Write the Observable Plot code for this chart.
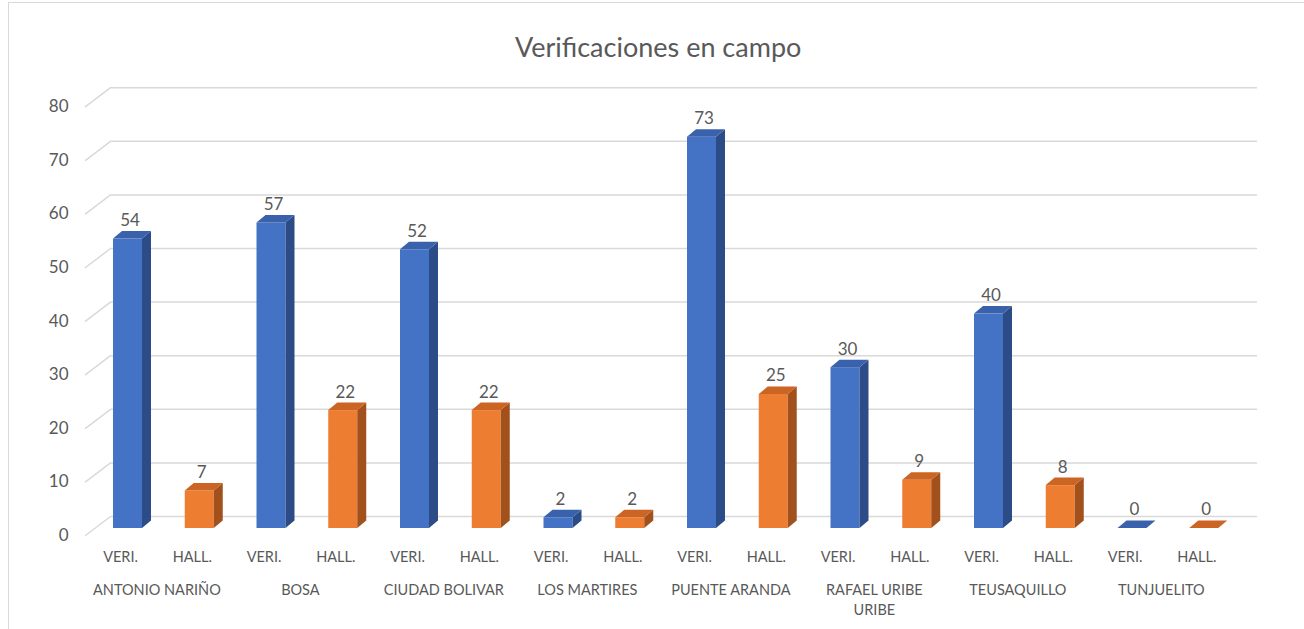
<!DOCTYPE html>
<html>
<head>
<meta charset="utf-8">
<script src="https://cdn.jsdelivr.net/npm/d3@7"></script>
<script src="https://cdn.jsdelivr.net/npm/@observablehq/plot@0.6"></script>
<style>
  html, body { margin: 0; padding: 0; background: #fff; }
  #wrap { position: relative; width: 1304px; height: 629px; overflow: hidden; }
  #border { position: absolute; left: 8px; top: 2px; right: -4px; bottom: -4px;
            border-top: 1.5px solid #d9d9d9; border-left: 1.5px solid #d9d9d9; pointer-events: none; }
  #chart { position: absolute; left: 0; top: 0; }
</style>
</head>
<body>
<div id="wrap"><div id="border"></div><div id="chart"></div></div>
<script>
const title = "Verificaciones en campo";
const districts = ["ANTONIO NARIÑO", "BOSA", "CIUDAD BOLIVAR", "LOS MARTIRES", "PUENTE ARANDA", "RAFAEL URIBE\nURIBE", "TEUSAQUILLO", "TUNJUELITO"];
const seriesLabels = ["VERI.", "HALL."];
const verificaciones = [54, 57, 52, 2, 73, 30, 40, 0];
const hallazgos = [7, 22, 22, 2, 25, 9, 8, 0];
const yTicks = [0, 10, 20, 30, 40, 50, 60, 70, 80];

const palette = [
  {front: "#4472C4", side: "#2B4C86", top: "#3A62AC"},
  {front: "#ED7D31", side: "#A2501C", top: "#CC6424"}
];

// geometry (pixel sizes)
const W = 1304, H = 629;
const pxX = 71.75, pxY = 5.36;
const x0px = 127.5, base = 528;
const ux = p => p / pxX, uy = p => p / pxY;
const halfW = ux(14.5), dX = ux(9), dY = uy(7.5);

const bars = [];
districts.forEach((d, k) => {
  [verificaciones[k], hallazgos[k]].forEach((v, s) => {
    bars.push({i: 2 * k + s, k, s, v, label: seriesLabels[s], ...palette[s]});
  });
});

const sidePts = bars.flatMap(b => [
  {bar: b.i, color: b.side, x: b.i + halfW, y1: 0, y2: b.v},
  {bar: b.i, color: b.side, x: b.i + halfW + dX, y1: dY, y2: b.v + dY}
]);
const topPts = bars.flatMap(b => [
  {bar: b.i, color: b.top, x: b.i - halfW, y1: b.v, y2: b.v},
  {bar: b.i, color: b.top, x: b.i - halfW + dX, y1: b.v, y2: b.v + dY},
  {bar: b.i, color: b.top, x: b.i + halfW, y1: b.v, y2: b.v + dY},
  {bar: b.i, color: b.top, x: b.i + halfW + dX, y1: b.v + dY, y2: b.v + dY}
]);

const backX1 = ux(110 - x0px), backX2 = ux(1256 - x0px), frontX = ux(85 - x0px);
const gridPts = yTicks.flatMap(t => [
  {t, x: frontX, y: t - uy(7)},
  {t, x: backX1, y: t + uy(12)},
  {t, x: backX2, y: t + uy(12)}
]);

const xMin = -1, xMax = 16, yMax = 90;
const marginLeft = x0px + xMin * pxX;
const marginRight = W - (x0px + xMax * pxX);
const marginBottom = H - base;
const marginTop = base - yMax * pxY;

const font = "Lato, 'Liberation Sans', sans-serif";
const txt = "#595959";

const chart = Plot.plot({
  width: W, height: H,
  marginLeft, marginRight, marginTop, marginBottom,
  x: {domain: [xMin, xMax], axis: null},
  y: {domain: [0, yMax], axis: null},
  color: {type: "identity"},
  style: {fontFamily: font, background: "transparent", overflow: "visible"},
  marks: [
    Plot.line(gridPts, {x: "x", y: "y", z: "t", stroke: "#d9d9d9", strokeWidth: 1.5}),
    Plot.text(yTicks, {x: ux(68 - x0px), y: t => t - uy(7), text: t => String(t), textAnchor: "end", fill: txt, fontSize: 17}),
    Plot.rect(bars, {x1: b => b.i - halfW, x2: b => b.i + halfW, y1: 0, y2: "v", fill: "front"}),
    Plot.areaY(sidePts, {x: "x", y1: "y1", y2: "y2", z: "bar", fill: "color", curve: "linear"}),
    Plot.areaY(topPts, {x: "x", y1: "y1", y2: "y2", z: "bar", fill: "color", curve: "linear"}),
    Plot.text(bars, {x: b => b.i + ux(2), y: b => b.v + dY, dy: -11, text: b => String(b.v), fill: txt, fontSize: 17}),
    Plot.text(bars, {x: b => b.i - ux(7.5), y: -uy(557 - base), text: "label", fill: txt, fontSize: 14.5}),
    Plot.text(districts, {x: (d, k) => 2 * k + 0.5 - ux(7), y: -uy(580 - base), text: d => d, lineAnchor: "top", lineHeight: 1.4, fill: txt, fontSize: 14.5}),
    Plot.text([title], {frameAnchor: "top", dx: -8, dy: -8.5, text: d => d, fill: txt, fontSize: 27})
  ]
});
document.getElementById("chart").appendChild(chart);
</script>
</body>
</html>
